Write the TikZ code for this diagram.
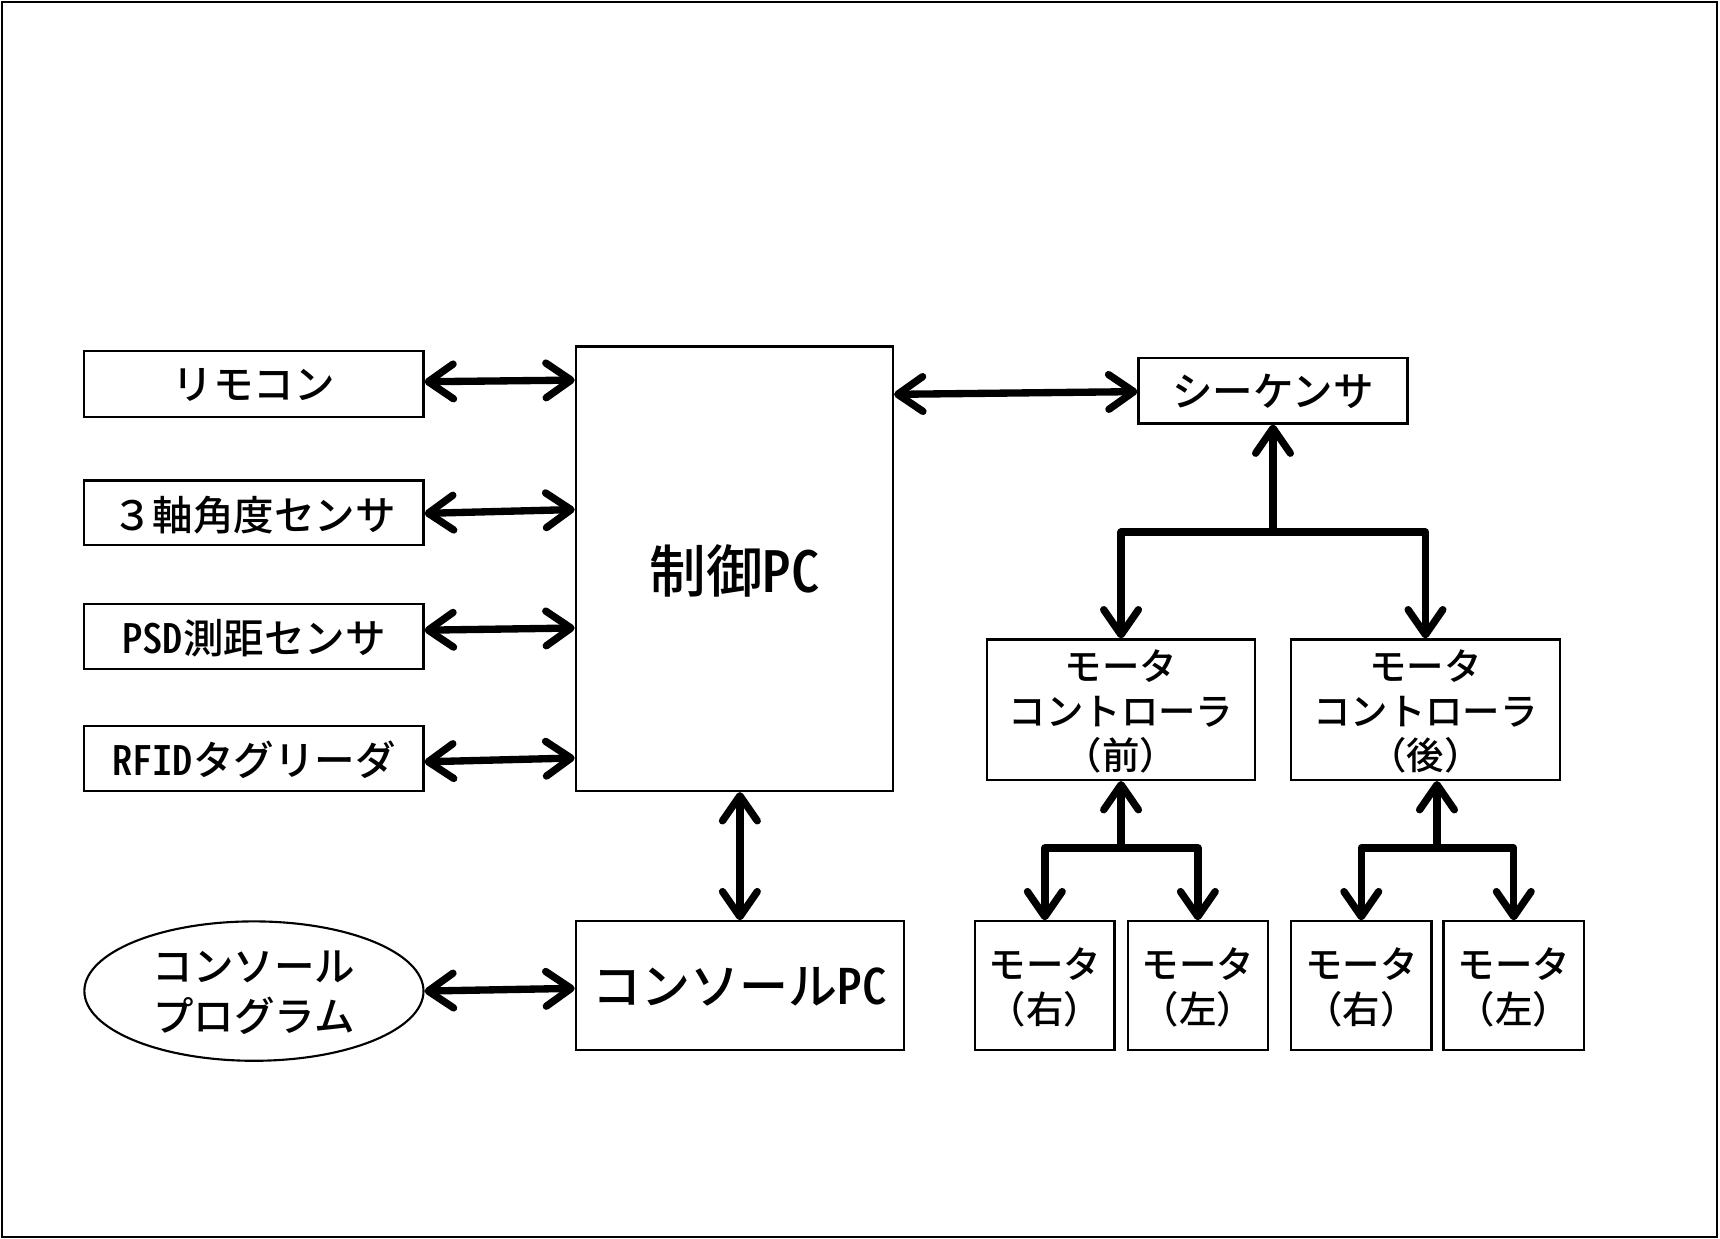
\documentclass[tikz,border=0pt]{standalone}
\usepackage{fontspec}
\setmainfont{Noto Sans CJK JP}[BoldFont={* Medium}]
\newfontfamily\hw{Noto Sans CJK JP}[BoldFont={* Medium},RawFeature=+hwid]
\usetikzlibrary{arrows.meta,shapes.geometric,calc}
\begin{document}
\begin{tikzpicture}[x=0.01cm,y=-0.01cm,
  box/.style={draw, line width=0.55pt, inner sep=0pt, align=center, text depth=-1pt,
    font=\fontsize{10.5pt}{12pt}\selectfont\bfseries},
  small/.style={font=\fontsize{9.7pt}{11.6pt}\selectfont\bfseries},
  lnk/.style={line width=1.9pt, line cap=round, line join=round},
  tipb/.tip={Straight Barb[length=6.5pt,width=9pt,round]},
  bi/.style={lnk, tipb-tipb},
  uni/.style={lnk, -tipb}]
\useasboundingbox (0,0) rectangle (1568,1129.5);
\draw[line width=0.55pt] (2,2) rectangle (1565,1127.5);
% left column
\node[box, minimum width=3.09cm, minimum height=0.60cm] (remo) at (231.5,350) {リモコン};
\node[box, minimum width=3.09cm, minimum height=0.59cm] (jiku) at (231.5,467.5) {３軸角度センサ};
\node[box, minimum width=3.09cm, minimum height=0.59cm] (psd) at (231.5,580.5) {{\hw PSD}測距センサ};
\node[box, minimum width=3.09cm, minimum height=0.59cm] (rfid) at (231.5,691.5) {{\hw RFID}タグリーダ};
\node[box, ellipse, inner sep=-3pt, minimum width=3.09cm, minimum height=1.27cm,
  font=\fontsize{10.5pt}{12.8pt}\selectfont\bfseries] (prog) at (231.5,903.5) {コンソール\\プログラム};
% PCs
\node[box, minimum width=2.89cm, minimum height=4.05cm,
  font=\fontsize{14.7pt}{17pt}\selectfont\bfseries] (pc) at (669.5,518.5) {制御{\hw PC}};
\node[box, minimum width=2.99cm, minimum height=1.17cm,
  font=\fontsize{12.7pt}{15pt}\selectfont\bfseries] (cpc) at (674.5,898.5) {コンソール{\hw PC}};
% right side
\node[box, minimum width=2.45cm, minimum height=0.60cm] (seq) at (1160.5,356) {シーケンサ};
\node[box, small, minimum width=2.44cm, minimum height=1.28cm] (mcf) at (1022,647) {モータ\\コントローラ\\（前）};
\node[box, small, minimum width=2.45cm, minimum height=1.28cm] (mcr) at (1299.5,647) {モータ\\コントローラ\\（後）};
\node[box, small, minimum width=1.27cm, minimum height=1.17cm] (m1) at (952.5,898.5) {モータ\\（右）};
\node[box, small, minimum width=1.28cm, minimum height=1.17cm] (m2) at (1092,898.5) {モータ\\（左）};
\node[box, small, minimum width=1.28cm, minimum height=1.17cm] (m3) at (1241,898.5) {モータ\\（右）};
\node[box, small, minimum width=1.28cm, minimum height=1.17cm] (m4) at (1380,898.5) {モータ\\（左）};
% connectors left
\draw[bi] ($(remo.east)+(0,-2)$) -- ($(pc.west |- remo.east)+(0,-3.5)$);
\draw[bi] ($(jiku.east)+(0,0.5)$) -- ($(pc.west |- jiku.east)+(0,-3)$);
\draw[bi] ($(psd.east)+(0,-6)$) -- ($(pc.west |- psd.east)+(0,-8)$);
\draw[bi] ($(rfid.east)+(0,3)$) -- ($(pc.west |- rfid.east)+(0,-0.5)$);
\draw[bi] (prog.east) -- ($(cpc.west)+(0,2.5)$);
\draw[bi] (cpc.north |- pc.south) -- (cpc.north);
\draw[bi] ($(pc.east |- seq.west)+(0,3.5)$) -- ($(seq.west)+(0,1)$);
% sequencer tree
\coordinate (j1) at (1160.5,485);
\draw[uni] (j1) -- (seq.south);
\draw[uni] (j1) -| (mcf.north);
\draw[uni] (j1) -| (mcr.north);
% front controller tree
\coordinate (j2) at (1022,773);
\draw[uni] (j2) -- (mcf.south);
\draw[uni] (j2) -| (m1.north);
\draw[uni] (j2) -| (m2.north);
% rear controller tree
\coordinate (j3) at (1310,773);
\draw[uni] (j3) -- (j3 |- mcr.south);
\draw[uni] (j3) -| (m3.north);
\draw[uni] (j3) -| (m4.north);
\end{tikzpicture}
\end{document}
